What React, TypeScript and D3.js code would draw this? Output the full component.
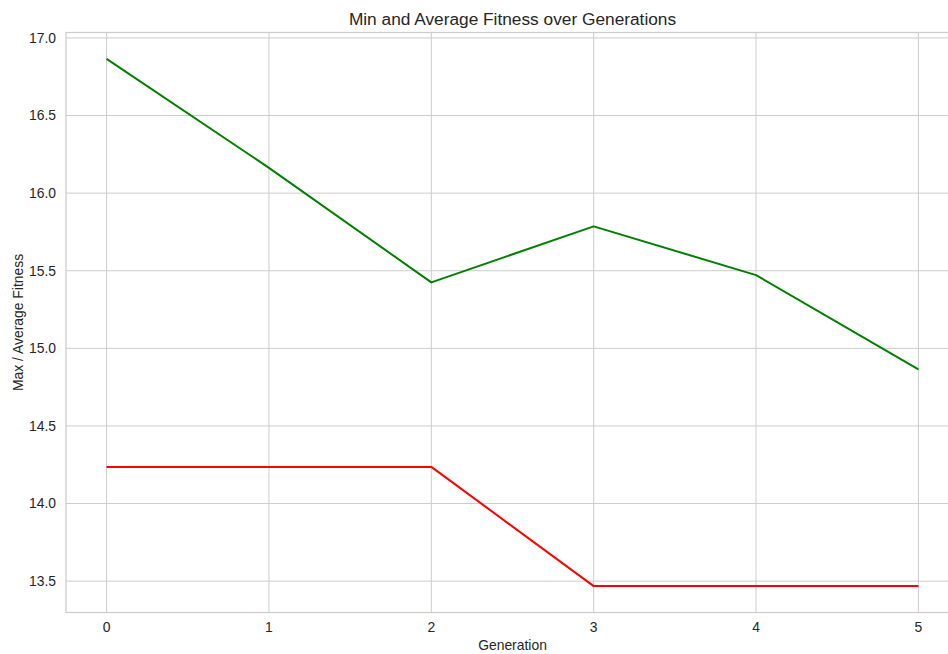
import React from "react";
import * as d3 from "d3";

const generations = [0, 1, 2, 3, 4, 5];
const avgFitness = [16.865, 16.163, 15.425, 15.786, 15.472, 14.865];
const minFitness = [14.236, 14.236, 14.236, 13.468, 13.468, 13.468];
const xTicks = [0, 1, 2, 3, 4, 5];
const yTicks = [13.5, 14.0, 14.5, 15.0, 15.5, 16.0, 16.5, 17.0];

const W = 948;
const H = 654;
const M = { left: 66, top: 32.5, right: 959, bottom: 612.5 };
const FONT = "'Liberation Sans', Arial, sans-serif";
const TXT = "#262626";
const GRID = "#cccccc";

export default function App() {
  const x = d3.scaleLinear().domain([-0.25, 5.25]).range([M.left, M.right]);
  const y = d3.scaleLinear().domain([13.298, 17.035]).range([M.bottom, M.top]);
  const line = (vals: number[]) =>
    d3.line<number>().x((_, i) => x(generations[i])).y((d) => y(d))(vals) || "";

  return (
    <svg width={W} height={H} style={{ position: "absolute", left: 0, top: 0 }} fontFamily={FONT}>
      <rect x={0} y={0} width={W} height={H} fill="#fff" />
      {yTicks.map((t) => (
        <line key={"gy" + t} x1={M.left} x2={M.right} y1={y(t)} y2={y(t)} stroke={GRID} strokeWidth={1} />
      ))}
      {xTicks.map((t) => (
        <line key={"gx" + t} x1={x(t)} x2={x(t)} y1={M.top} y2={M.bottom} stroke={GRID} strokeWidth={1} />
      ))}
      <rect x={M.left} y={M.top} width={M.right - M.left} height={M.bottom - M.top} fill="none" stroke={GRID} strokeWidth={1.25} />
      <path d={line(avgFitness)} fill="none" stroke="#008000" strokeWidth={2} strokeLinejoin="round" />
      <path d={line(minFitness)} fill="none" stroke="#ff0000" strokeWidth={2} strokeLinejoin="round" />
      {yTicks.map((t) => (
        <text key={"ty" + t} x={56} y={y(t)} dy="0.35em" textAnchor="end" fontSize={13.9} fill={TXT}>
          {t.toFixed(1)}
        </text>
      ))}
      {xTicks.map((t) => (
        <text key={"tx" + t} x={x(t)} y={627} dy="0.35em" textAnchor="middle" fontSize={13.9} fill={TXT}>
          {t}
        </text>
      ))}
      <text x={(M.left + M.right) / 2} y={650} textAnchor="middle" fontSize={13.9} fill={TXT}>
        Generation
      </text>
      <text transform={`translate(23,${(M.top + M.bottom) / 2}) rotate(-90)`} textAnchor="middle" fontSize={13.9} fill={TXT}>
        Max / Average Fitness
      </text>
      <text x={(M.left + M.right) / 2} y={24.5} textAnchor="middle" fontSize={17.3} fill={TXT}>
        Min and Average Fitness over Generations
      </text>
    </svg>
  );
}
